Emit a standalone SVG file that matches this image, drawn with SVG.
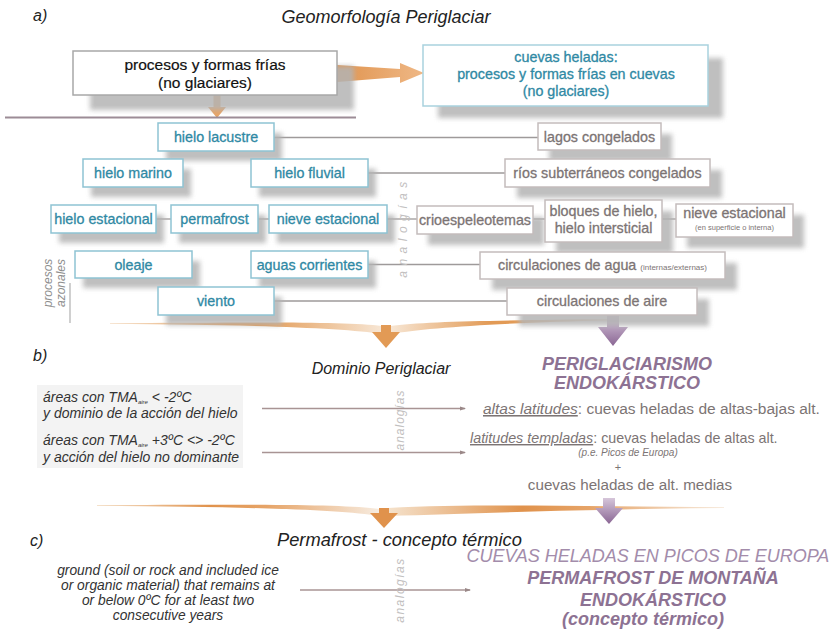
<svg xmlns="http://www.w3.org/2000/svg" width="834" height="629" viewBox="0 0 834 629">
<defs>
<filter id="blur" x="-20%" y="-40%" width="140%" height="180%"><feGaussianBlur stdDeviation="2.5"/></filter>
<linearGradient id="og" x1="0" y1="0" x2="1" y2="0">
<stop offset="0" stop-color="#f7e6d4"/><stop offset="0.45" stop-color="#e29a55"/><stop offset="0.55" stop-color="#e29a55"/><stop offset="1" stop-color="#f7e6d4"/>
</linearGradient>
<linearGradient id="og2" x1="0" y1="0" x2="1" y2="0">
<stop offset="0" stop-color="#f5e2cc"/><stop offset="0.4" stop-color="#e0924c"/><stop offset="0.6" stop-color="#e6a468"/><stop offset="1" stop-color="#f7ece0"/>
</linearGradient>
<linearGradient id="ot" x1="0" y1="0" x2="1" y2="0">
<stop offset="0" stop-color="#e0944f"/><stop offset="1" stop-color="#efb886"/>
</linearGradient>
<linearGradient id="pg" x1="0" y1="0" x2="0" y2="1">
<stop offset="0" stop-color="#d6c6da"/><stop offset="1" stop-color="#8a6694"/>
</linearGradient>
<marker id="ah" viewBox="0 0 6 6" refX="5" refY="3" markerWidth="5" markerHeight="5" orient="auto"><path d="M0,1 L6,3 L0,5 Z" fill="#9a8888"/></marker>
<style>
.sh{fill:#b4b4b4;filter:url(#blur);opacity:0.85}
.tb{fill:#fff;stroke:#8ec3d3;stroke-width:1.5}
.gb{fill:#fff;stroke:#c4bcbc;stroke-width:1.5}
.tt{font-family:"Liberation Sans",Arial,sans-serif;font-size:14.3px;fill:#2f89a4;stroke:#2f89a4;stroke-width:0.3;text-anchor:middle}
.gt{font-family:"Liberation Sans",Arial,sans-serif;font-size:14.3px;fill:#7c7474;stroke:#7c7474;stroke-width:0.3;text-anchor:middle}
.hd{font-family:"Liberation Sans",Arial,sans-serif;font-size:16px;font-style:italic;fill:#222}
.lt{font-family:"Liberation Sans",Arial,sans-serif;font-size:14px;font-style:italic;fill:#333}
.an{font-family:"Liberation Sans",Arial,sans-serif;font-size:12px;font-style:italic;fill:#c2c0c0;text-anchor:middle}
.pu{font-family:"Liberation Sans",Arial,sans-serif;font-size:18px;font-style:italic;font-weight:bold;fill:#8d7293;text-anchor:middle}
.rt{font-family:"Liberation Sans",Arial,sans-serif;font-size:14px;fill:#7c7474}
.cn{stroke:#9e9a9a;stroke-width:1.3;fill:none}
.ar{stroke:#a89494;stroke-width:1.3;fill:none}
</style>
</defs>
<rect width="834" height="629" fill="#fff"/>

<!-- headings -->
<g id="headings">
<text class="hd" x="33" y="21">a)</text>
<text class="hd" x="386" y="23" text-anchor="middle" style="font-size:18px">Geomorfología Periglaciar</text>
<text class="hd" x="33" y="361">b)</text>
<text class="hd" x="381" y="374" text-anchor="middle">Dominio Periglaciar</text>
<text class="hd" x="30" y="546">c)</text>
<text class="hd" x="277" y="546" style="font-size:18.3px">Permafrost - concepto térmico</text>
</g>

<!-- connectors -->
<g id="connectors">
<path d="M337,65 L400,69 L400,63 L424,73 L400,83 L400,77 L337,82 Z" fill="url(#ot)"/>
<path d="M213.5,95 L220.5,95 L220.5,107 L226,107 L217,118 L208,107 L213.5,107 Z" fill="#e6a468"/>
<line x1="5" y1="117.5" x2="356" y2="117.5" stroke="#9c8c96" stroke-width="2"/>
<line class="cn" x1="274" y1="137.5" x2="538" y2="137.5"/>
<line class="cn" x1="368" y1="173" x2="505" y2="173"/>
<line class="cn" x1="156" y1="219" x2="171" y2="219"/>
<line class="cn" x1="258" y1="219" x2="269" y2="219"/>
<line class="cn" x1="387" y1="219" x2="417" y2="219"/>
<line class="cn" x1="533" y1="219" x2="545" y2="219"/>
<line class="cn" x1="662" y1="219" x2="676" y2="219"/>
<line class="cn" x1="368" y1="264.5" x2="480" y2="264.5"/>
<line class="cn" x1="274" y1="301" x2="507" y2="301"/>
<line x1="70" y1="283" x2="70" y2="323" stroke="#b0b0b0" stroke-width="1.2"/>
<!-- brace 1 -->
<path d="M110,323 C250,322.5 345,321 382,326 L382,334 C345,328 250,324.5 110,324 Z" fill="url(#og)"/>
<path d="M612,319 C500,320.5 425,321 390,326 L390,334 C425,328 500,322.5 612,320.5 Z" fill="url(#og)"/>
<rect x="381" y="325" width="10" height="9" fill="#e29a55"/>
<path d="M372,332 L400,332 L386,348 Z" fill="#e29a55"/>
<!-- purple arrow 1 -->
<path d="M607,315 L619,315 L619,327 L628,327 L613,346 L598,327 L607,327 Z" fill="url(#pg)"/>
<!-- b arrows -->
<line class="ar" x1="262" y1="408.5" x2="465" y2="408.5" marker-end="url(#ah)"/>
<line class="ar" x1="262" y1="452.5" x2="465" y2="452.5" marker-end="url(#ah)"/>
<!-- brace 2 -->
<path d="M97,505 C250,504.5 340,504 380,509 L380,516 C340,510 250,506.5 97,506 Z" fill="url(#og2)"/>
<path d="M724,507 C600,507 480,503 388,508 L388,516 C480,513 600,509 724,508 Z" fill="url(#og2)"/>
<rect x="379" y="508" width="10" height="7" fill="#e0924c"/>
<path d="M370,513 L398,513 L384,528 Z" fill="#e0924c"/>
<!-- purple arrow 2 -->
<path d="M603,498 L615,498 L615,508 L623,508 L609,524 L595,508 L603,508 Z" fill="url(#pg)"/>
<!-- c arrow -->
<line class="ar" x1="300" y1="590" x2="470" y2="590" marker-end="url(#ah)"/>
</g>

<!-- analogías labels -->
<g id="analogias">
<text class="an" transform="translate(407,227) rotate(-90)" letter-spacing="5.5">analogías</text>
<text class="an" transform="translate(404,420) rotate(-90)" letter-spacing="1">analogías</text>
<text class="an" transform="translate(404,590) rotate(-90)" letter-spacing="1.5">analogías</text>
<text class="an" transform="translate(52,283) rotate(-90)" style="fill:#8e8e8e">procesos</text>
<text class="an" transform="translate(65,283) rotate(-90)" style="fill:#8e8e8e">azonales</text>
</g>

<g id="n-procesos">
<rect class="sh" x="90" y="66" width="264" height="44"/>
<rect x="73" y="51" width="264" height="44" fill="#fff" stroke="#a8a8a8" stroke-width="1.5"/>
<text class="tt" x="205" y="70" style="fill:#111;stroke:#111;stroke-width:0.2;font-size:15.5px">procesos y formas frías</text>
<text class="tt" x="205" y="88" style="fill:#111;stroke:#111;stroke-width:0.2;font-size:15.5px">(no glaciares)</text>
</g>
<g id="n-cuevas">
<rect class="sh" x="438" y="58" width="285" height="60"/>
<rect x="423" y="45" width="285" height="61" fill="#fff" stroke="#a9d2de" stroke-width="1.5"/>
<text class="tt" x="566" y="62">cuevas heladas:</text>
<text class="tt" x="566" y="79">procesos y formas frías en cuevas</text>
<text class="tt" x="566" y="96">(no glaciares)</text>
</g>

<g id="n-hielo-lacustre"><rect class="sh" x="166" y="133" width="116" height="28"/><rect class="tb" x="158" y="123" width="116" height="28"/><text class="tt" x="216" y="142">hielo lacustre</text></g>
<g id="n-hielo-marino"><rect class="sh" x="91" y="169" width="100" height="28"/><rect class="tb" x="83" y="159" width="100" height="28"/><text class="tt" x="133" y="178">hielo marino</text></g>
<g id="n-hielo-fluvial"><rect class="sh" x="259" y="169" width="117" height="28"/><rect class="tb" x="251" y="159" width="117" height="28"/><text class="tt" x="309.5" y="178">hielo fluvial</text></g>
<g id="n-hielo-estacional"><rect class="sh" x="59" y="215" width="105" height="28"/><rect class="tb" x="51" y="205" width="105" height="28"/><text class="tt" x="103.5" y="224">hielo estacional</text></g>
<g id="n-permafrost"><rect class="sh" x="179" y="215" width="87" height="28"/><rect class="tb" x="171" y="205" width="87" height="28"/><text class="tt" x="214.5" y="224">permafrost</text></g>
<g id="n-nieve-estacional"><rect class="sh" x="277" y="215" width="118" height="28"/><rect class="tb" x="269" y="205" width="118" height="28"/><text class="tt" x="328" y="224">nieve estacional</text></g>
<g id="n-oleaje"><rect class="sh" x="83" y="261" width="117" height="27"/><rect class="tb" x="75" y="251" width="117" height="27"/><text class="tt" x="133.5" y="269.5">oleaje</text></g>
<g id="n-aguas-corrientes"><rect class="sh" x="259" y="261" width="117" height="27"/><rect class="tb" x="251" y="251" width="117" height="27"/><text class="tt" x="309.5" y="269.5">aguas corrientes</text></g>
<g id="n-viento"><rect class="sh" x="166" y="297" width="116" height="28"/><rect class="tb" x="158" y="287" width="116" height="28"/><text class="tt" x="216" y="306">viento</text></g>

<g id="n-lagos"><rect class="sh" x="549" y="134" width="123" height="27"/><rect class="gb" x="538" y="123" width="123" height="27"/><text class="gt" x="599.5" y="141.5">lagos congelados</text></g>
<g id="n-rios"><rect class="sh" x="517" y="170" width="205" height="28"/><rect class="gb" x="505" y="159" width="205" height="28"/><text class="gt" x="607.5" y="178">ríos subterráneos congelados</text></g>
<g id="n-crio"><rect class="sh" x="428" y="217" width="116" height="28"/><rect class="gb" x="417" y="206" width="116" height="28"/><text class="gt" x="475" y="225">crioespeleotemas</text></g>
<g id="n-bloques"><rect class="sh" x="556" y="211" width="117" height="42"/><rect class="gb" x="545" y="200" width="117" height="42"/><text class="gt" x="603.5" y="216">bloques de hielo,</text><text class="gt" x="603.5" y="233">hielo intersticial</text></g>
<g id="n-nieve-r"><rect class="sh" x="687" y="215" width="117" height="33"/><rect class="gb" x="676" y="204" width="117" height="33"/><text class="gt" x="734.5" y="218">nieve estacional</text><text class="gt" x="734.5" y="230" style="font-size:7.5px;stroke-width:0">(en superficie o interna)</text></g>
<g id="n-circ-agua"><rect class="sh" x="492" y="263" width="245" height="27"/><rect class="gb" x="480" y="252" width="245" height="27"/><text class="gt" x="602.5" y="270"><tspan>circulaciones de agua </tspan><tspan style="font-size:8px;stroke-width:0">(internas/externas)</tspan></text></g>
<g id="n-circ-aire"><rect class="sh" x="519" y="299" width="190" height="27"/><rect class="gb" x="507" y="288" width="190" height="27"/><text class="gt" x="602" y="306">circulaciones de aire</text></g>

<!-- section b -->
<g id="b-left">
<rect x="37" y="385" width="206" height="83" fill="#f3f3f3"/>
<text class="lt" x="43" y="402">áreas con TMA<tspan style="font-size:6px" dy="2">aire</tspan><tspan dy="-2"> &lt; -2ºC</tspan></text>
<text class="lt" x="43" y="418">y dominio de la acción del hielo</text>
<text class="lt" x="43" y="445">áreas con TMA<tspan style="font-size:6px" dy="2">aire</tspan><tspan dy="-2"> +3ºC &lt;&gt; -2ºC</tspan></text>
<text class="lt" x="43" y="462">y acción del hielo no dominante</text>
</g>
<g id="b-right">
<text class="pu" x="627" y="370">PERIGLACIARISMO</text>
<text class="pu" x="627" y="389">ENDOKÁRSTICO</text>
<text class="rt" x="483" y="414" style="font-size:15.5px"><tspan font-style="italic" text-decoration="underline">altas latitudes</tspan>: cuevas heladas de altas-bajas alt.</text>
<text class="rt" x="470" y="443" style="font-size:14.3px"><tspan font-style="italic" text-decoration="underline">latitudes templadas</tspan>: cuevas heladas de altas alt.</text>
<text class="rt" x="628" y="456" text-anchor="middle" style="font-size:10px;font-style:italic">(p.e. Picos de Europa)</text>
<text class="rt" x="618" y="471" text-anchor="middle" style="font-size:11px">+</text>
<text class="rt" x="630" y="490" text-anchor="middle" style="font-size:15.2px">cuevas heladas de alt. medias</text>
</g>

<!-- section c -->
<g id="c-left">
<text class="lt" x="168" y="575" text-anchor="middle" style="font-size:13.8px">ground (soil or rock and included ice</text>
<text class="lt" x="168" y="590" text-anchor="middle" style="font-size:13.8px">or organic material) that remains at</text>
<text class="lt" x="168" y="605" text-anchor="middle" style="font-size:13.8px">or below 0ºC for at least two</text>
<text class="lt" x="168" y="620" text-anchor="middle" style="font-size:13.8px">consecutive years</text>
</g>
<g id="c-right">
<text class="pu" x="648" y="562" style="font-weight:normal;fill:#a38cab">CUEVAS HELADAS EN PICOS DE EUROPA</text>
<text class="pu" x="653" y="584">PERMAFROST DE MONTAÑA</text>
<text class="pu" x="653" y="606">ENDOKÁRSTICO</text>
<text class="pu" x="643" y="625">(concepto térmico)</text>
</g>
</svg>
